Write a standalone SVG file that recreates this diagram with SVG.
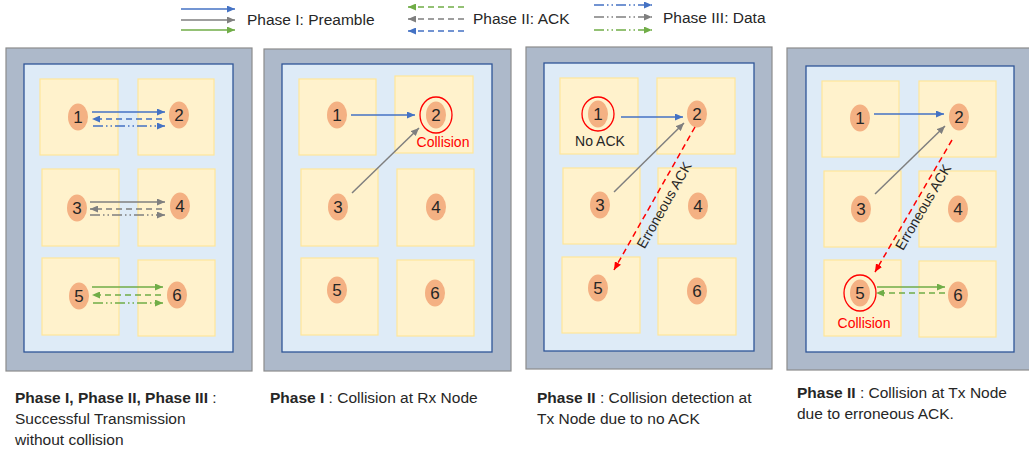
<svg xmlns="http://www.w3.org/2000/svg" width="1029" height="455" viewBox="0 0 1029 455">
<defs>
<style>
text{font-family:"Liberation Sans",Arial,sans-serif;fill:#262626}
.outer{fill:#ADB9CA;stroke:#8C8C8C;stroke-width:1.2}
.inner{fill:#DEEBF7;stroke:#2F5597;stroke-width:1.3}
.box{fill:#FFF2CC;stroke:#FFE699;stroke-width:1.2}
.nd{fill:#F4B183}
.num{font-size:17px;text-anchor:middle}
.ring{fill:none;stroke:#FF0000;stroke-width:1.3}
.red{fill:#FF0000;font-size:14px;text-anchor:middle}
.lbl{font-size:14px;text-anchor:middle}
.leg{font-size:15.5px}
.cap{font-size:15.5px}
.b{font-weight:bold}
.ln{fill:none;stroke-width:1.5}
.blue{stroke:#4472C4}
.gray{stroke:#7F7F7F}
.green{stroke:#70AD47}
.redl{stroke:#FF0000}
.ack{stroke-dasharray:6 4}
.dat{stroke-dasharray:10 3 1.5 3 1.5 3}
</style>
<marker id="mb" markerWidth="8" markerHeight="7" refX="8" refY="3.5" orient="auto" markerUnits="userSpaceOnUse"><path d="M0,0 L8,3.5 L0,7 z" fill="#4472C4"/></marker>
<marker id="mg" markerWidth="8" markerHeight="7" refX="8" refY="3.5" orient="auto" markerUnits="userSpaceOnUse"><path d="M0,0 L8,3.5 L0,7 z" fill="#7F7F7F"/></marker>
<marker id="mn" markerWidth="8" markerHeight="7" refX="8" refY="3.5" orient="auto" markerUnits="userSpaceOnUse"><path d="M0,0 L8,3.5 L0,7 z" fill="#70AD47"/></marker>
<marker id="mr" markerWidth="8" markerHeight="7" refX="8" refY="3.5" orient="auto" markerUnits="userSpaceOnUse"><path d="M0,0 L8,3.5 L0,7 z" fill="#FF0000"/></marker>
</defs>
<rect width="1029" height="455" fill="#FFFFFF"/>

<!-- Legend -->
<g id="legend">
<line class="ln blue" x1="181" y1="9" x2="235" y2="9" marker-end="url(#mb)"/>
<line class="ln gray" x1="181" y1="20" x2="235" y2="20" marker-end="url(#mg)"/>
<line class="ln green" x1="181" y1="30" x2="235" y2="30" marker-end="url(#mn)"/>
<text class="leg" x="247" y="25">Phase I: Preamble</text>
<line class="ln green ack" x1="464" y1="7" x2="408" y2="7" marker-end="url(#mn)"/>
<line class="ln gray ack" x1="464" y1="19" x2="408" y2="19" marker-end="url(#mg)"/>
<line class="ln blue ack" x1="464" y1="31" x2="408" y2="31" marker-end="url(#mb)"/>
<text class="leg" x="473" y="24">Phase II: ACK</text>
<line class="ln blue dat" x1="594" y1="5" x2="652" y2="5" marker-end="url(#mb)"/>
<line class="ln gray dat" x1="594" y1="17" x2="652" y2="17" marker-end="url(#mg)"/>
<line class="ln green dat" x1="594" y1="30" x2="652" y2="30" marker-end="url(#mn)"/>
<text class="leg" x="663" y="23">Phase III: Data</text>
</g>

<!-- Panel frames -->
<g id="panel1-frame"><rect class="outer" x="6" y="48" width="246" height="323"/><rect class="inner" x="24" y="64" width="209" height="288"/></g>
<g id="panel2-frame"><rect class="outer" x="264" y="49" width="247" height="322"/><rect class="inner" x="282" y="64" width="210" height="288"/></g>
<g id="panel3-frame"><rect class="outer" x="526" y="47" width="246" height="322"/><rect class="inner" x="544" y="63" width="210" height="288"/></g>
<g id="panel4-frame"><rect class="outer" x="787" y="48" width="250" height="322"/><rect class="inner" x="806" y="66" width="208" height="286"/></g>

<!-- Panel 1 nodes -->
<g id="p1-n1"><rect class="box" x="40" y="79" width="78" height="76"/><ellipse class="nd" cx="78" cy="117" rx="10" ry="13.5"/><text class="num" x="78" y="123">1</text></g>
<g id="p1-n2"><rect class="box" x="138" y="79" width="76" height="76"/><ellipse class="nd" cx="179" cy="115" rx="10" ry="13.5"/><text class="num" x="179" y="121">2</text></g>
<g id="p1-n3"><rect class="box" x="42" y="169" width="77" height="77"/><ellipse class="nd" cx="77" cy="208" rx="10" ry="13.5"/><text class="num" x="77" y="214">3</text></g>
<g id="p1-n4"><rect class="box" x="138" y="169" width="77" height="77"/><ellipse class="nd" cx="180" cy="206" rx="10" ry="13.5"/><text class="num" x="180" y="212">4</text></g>
<g id="p1-n5"><rect class="box" x="42" y="258" width="77" height="77"/><ellipse class="nd" cx="79" cy="296" rx="10" ry="13.5"/><text class="num" x="79" y="302">5</text></g>
<g id="p1-n6"><rect class="box" x="138" y="260" width="77" height="76"/><ellipse class="nd" cx="177" cy="295" rx="10" ry="13.5"/><text class="num" x="177" y="301">6</text></g>

<!-- Panel 2 nodes -->
<g id="p2-n1"><rect class="box" x="299" y="79" width="77" height="76"/><ellipse class="nd" cx="337" cy="115" rx="10" ry="13.5"/><text class="num" x="337" y="121">1</text></g>
<g id="p2-n2"><rect class="box" x="395" y="76" width="78" height="77"/><ellipse class="nd" cx="436" cy="115" rx="10" ry="13.5"/><text class="num" x="436" y="121">2</text><ellipse class="ring" cx="436" cy="115" rx="16" ry="18"/><text class="red" x="443" y="147">Collision</text></g>
<g id="p2-n3"><rect class="box" x="301" y="169" width="77" height="77"/><ellipse class="nd" cx="338" cy="207" rx="10" ry="13.5"/><text class="num" x="338" y="213">3</text></g>
<g id="p2-n4"><rect class="box" x="397" y="169" width="77" height="77"/><ellipse class="nd" cx="436" cy="207" rx="10" ry="13.5"/><text class="num" x="436" y="213">4</text></g>
<g id="p2-n5"><rect class="box" x="301" y="258" width="77" height="77"/><ellipse class="nd" cx="337" cy="290" rx="10" ry="13.5"/><text class="num" x="337" y="296">5</text></g>
<g id="p2-n6"><rect class="box" x="397" y="260" width="77" height="76"/><ellipse class="nd" cx="435" cy="293" rx="10" ry="13.5"/><text class="num" x="435" y="299">6</text></g>

<!-- Panel 3 nodes -->
<g id="p3-n1"><rect class="box" x="560" y="78" width="78" height="76"/><ellipse class="nd" cx="598" cy="114" rx="10" ry="13.5"/><text class="num" x="598" y="120">1</text><ellipse class="ring" cx="598" cy="114" rx="16" ry="17"/><text class="lbl" x="600" y="146">No ACK</text></g>
<g id="p3-n2"><rect class="box" x="657" y="78" width="78" height="76"/><ellipse class="nd" cx="697" cy="114" rx="10" ry="13.5"/><text class="num" x="697" y="120">2</text></g>
<g id="p3-n3"><rect class="box" x="563" y="168" width="77" height="76"/><ellipse class="nd" cx="600" cy="205" rx="10" ry="13.5"/><text class="num" x="600" y="211">3</text></g>
<g id="p3-n4"><rect class="box" x="658" y="168" width="78" height="76"/><ellipse class="nd" cx="698" cy="206" rx="10" ry="13.5"/><text class="num" x="698" y="212">4</text></g>
<g id="p3-n5"><rect class="box" x="562" y="257" width="78" height="76"/><ellipse class="nd" cx="598" cy="288" rx="10" ry="13.5"/><text class="num" x="598" y="294">5</text></g>
<g id="p3-n6"><rect class="box" x="658" y="258" width="78" height="77"/><ellipse class="nd" cx="697" cy="291" rx="10" ry="13.5"/><text class="num" x="697" y="297">6</text></g>

<!-- Panel 4 nodes -->
<g id="p4-n1"><rect class="box" x="822" y="81" width="77" height="76"/><ellipse class="nd" cx="860" cy="118" rx="10" ry="13.5"/><text class="num" x="860" y="124">1</text></g>
<g id="p4-n2"><rect class="box" x="919" y="81" width="77" height="76"/><ellipse class="nd" cx="959" cy="117" rx="10" ry="13.5"/><text class="num" x="959" y="123">2</text></g>
<g id="p4-n3"><rect class="box" x="824" y="171" width="77" height="76"/><ellipse class="nd" cx="861" cy="209" rx="10" ry="13.5"/><text class="num" x="861" y="215">3</text></g>
<g id="p4-n4"><rect class="box" x="919" y="171" width="77" height="76"/><ellipse class="nd" cx="958" cy="209" rx="10" ry="13.5"/><text class="num" x="958" y="215">4</text></g>
<g id="p4-n5"><rect class="box" x="824" y="260" width="77" height="76"/><ellipse class="nd" cx="860" cy="293" rx="10" ry="13.5"/><text class="num" x="860" y="299">5</text><ellipse class="ring" cx="860" cy="293" rx="16" ry="18"/><text class="red" x="864" y="328">Collision</text></g>
<g id="p4-n6"><rect class="box" x="919" y="261" width="77" height="76"/><ellipse class="nd" cx="958" cy="295" rx="10" ry="13.5"/><text class="num" x="958" y="301">6</text></g>

<!-- Connectors -->
<g id="connectors">
<line class="ln blue" x1="92" y1="112" x2="165" y2="112" marker-end="url(#mb)"/>
<line class="ln blue ack" x1="162" y1="119" x2="92" y2="119" marker-end="url(#mb)"/>
<line class="ln blue dat" x1="93" y1="126" x2="165" y2="126" marker-end="url(#mb)"/>
<line class="ln gray" x1="90" y1="202" x2="165" y2="202" marker-end="url(#mg)"/>
<line class="ln gray ack" x1="162" y1="209" x2="90" y2="209" marker-end="url(#mg)"/>
<line class="ln gray dat" x1="90" y1="215" x2="165" y2="215" marker-end="url(#mg)"/>
<line class="ln green" x1="92" y1="287" x2="163" y2="287" marker-end="url(#mn)"/>
<line class="ln green ack" x1="161" y1="295" x2="92" y2="295" marker-end="url(#mn)"/>
<line class="ln green dat" x1="93" y1="303" x2="163" y2="303" marker-end="url(#mn)"/>

<line class="ln blue" x1="351" y1="115" x2="415" y2="115" marker-end="url(#mb)"/>
<line class="ln gray" x1="352" y1="193" x2="419" y2="128" marker-end="url(#mg)"/>

<line class="ln blue" x1="621" y1="117" x2="683" y2="117" marker-end="url(#mb)"/>
<line class="ln gray" x1="614" y1="192" x2="684" y2="123" marker-end="url(#mg)"/>
<line class="ln redl ack" x1="695" y1="127" x2="614" y2="270" marker-end="url(#mr)"/>
<text class="lbl" transform="translate(664,205) rotate(-60.5)" dominant-baseline="central">Erroneous ACK</text>

<line class="ln blue" x1="874" y1="114" x2="944" y2="114" marker-end="url(#mb)"/>
<line class="ln gray" x1="875" y1="194" x2="945" y2="126" marker-end="url(#mg)"/>
<line class="ln redl ack" x1="952" y1="140" x2="875" y2="272" marker-end="url(#mr)"/>
<text class="lbl" transform="translate(923,207) rotate(-59.7)" dominant-baseline="central">Erroneous ACK</text>
<line class="ln green" x1="877" y1="287" x2="945" y2="287" marker-end="url(#mn)"/>
<line class="ln green ack" x1="945" y1="293" x2="876" y2="293" marker-end="url(#mn)"/>
</g>

<!-- Captions -->
<g id="captions">
<text class="cap" x="15" y="403"><tspan class="b">Phase I, Phase II, Phase III</tspan> :</text>
<text class="cap" x="15" y="424">Successful Transmission</text>
<text class="cap" x="15" y="445">without collision</text>
<text class="cap" x="270" y="403"><tspan class="b">Phase I</tspan> : Collision at Rx Node</text>
<text class="cap" x="537" y="403"><tspan class="b">Phase II</tspan> : Collision detection at</text>
<text class="cap" x="537" y="424">Tx Node due to no ACK</text>
<text class="cap" x="797" y="398"><tspan class="b">Phase II</tspan> : Collision at Tx Node</text>
<text class="cap" x="797" y="419">due to erroneous ACK.</text>
</g>
</svg>
